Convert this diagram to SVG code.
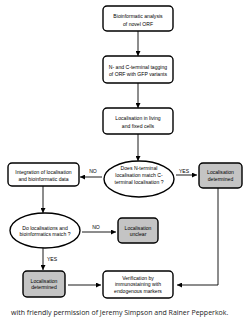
<svg xmlns="http://www.w3.org/2000/svg" width="250" height="320" viewBox="0 0 250 320">
<style>
.b{fill:#fff;stroke:#000;stroke-width:1.4}
.g{fill:#c4c4c4;stroke:#000;stroke-width:1.4}
.t{font-family:"Liberation Sans",Arial,sans-serif;font-size:5.1px;text-anchor:middle;fill:#000}
.c{stroke:#000;stroke-width:0.9;fill:none}
.cap{font-family:"Open Sans","DejaVu Sans",sans-serif;font-size:7px;fill:#222}
</style>
<defs>
<marker id="ah" viewBox="0 0 10 10" refX="10" refY="5" markerWidth="5" markerHeight="5" orient="auto" markerUnits="userSpaceOnUse">
<path d="M0,0 L10,5 L0,10 z" fill="#000"/>
</marker>
</defs>
<rect width="250" height="320" fill="#fff"/>
<g id="connectors">
<line class="c" x1="138" y1="31" x2="138" y2="56" marker-end="url(#ah)"/>
<line class="c" x1="138" y1="83" x2="138" y2="108" marker-end="url(#ah)"/>
<line class="c" x1="138" y1="134" x2="138" y2="161" marker-end="url(#ah)"/>
<line class="c" x1="102" y1="177" x2="80" y2="177" marker-end="url(#ah)"/>
<line class="c" x1="176" y1="175" x2="197" y2="175" marker-end="url(#ah)"/>
<polyline class="c" points="218,188 218,285 177,285" marker-end="url(#ah)"/>
<line class="c" x1="43" y1="186" x2="43" y2="213" marker-end="url(#ah)"/>
<line class="c" x1="82" y1="232" x2="116" y2="232" marker-end="url(#ah)"/>
<line class="c" x1="43" y1="248" x2="43" y2="270" marker-end="url(#ah)"/>
<line class="c" x1="68" y1="285" x2="101" y2="285" marker-end="url(#ah)"/>
<text class="t" x="93" y="173">NO</text>
<text class="t" x="184" y="173">YES</text>
<text class="t" x="96" y="229">NO</text>
<text class="t" x="52" y="261">YES</text>
</g>
<g id="n1"><rect class="b" x="103" y="6" width="70" height="25" rx="4"/>
<text class="t" x="138" y="17.5">Bioinformatic analysis</text><text class="t" x="138" y="25.8">of novel ORF</text></g>
<g id="n2"><rect class="b" x="103" y="56" width="70" height="27" rx="4"/>
<text class="t" x="138" y="68.5">N- and C-terminal tagging</text><text class="t" x="138" y="76">of ORF with GFP variants</text></g>
<g id="n3"><rect class="b" x="103" y="108" width="70" height="26" rx="4"/>
<text class="t" x="138" y="120">Localisation in living</text><text class="t" x="138" y="128">and fixed cells</text></g>
<g id="n4"><ellipse class="b" cx="139" cy="179" rx="35" ry="18"/>
<text class="t" x="139" y="170">Does N-terminal</text><text class="t" x="139" y="177">localisation match C-</text><text class="t" x="139" y="184">terminal localisation ?</text></g>
<g id="n5"><rect class="b" x="8" y="163" width="71" height="23" rx="4"/>
<text class="t" x="43.5" y="173.5">Integration of localisation</text><text class="t" x="43.5" y="180.5">and bioinformatic data</text></g>
<g id="n6"><rect class="g" x="199" y="163" width="43" height="25" rx="4"/>
<text class="t" x="220.5" y="174">Localisation</text><text class="t" x="220.5" y="181">determined</text></g>
<g id="n7"><ellipse class="b" cx="45" cy="230.5" rx="35" ry="17.5"/>
<text class="t" x="45" y="229.5">Do localisations and</text><text class="t" x="45" y="236">bioinformatics match ?</text></g>
<g id="n8"><rect class="g" x="118" y="218" width="40" height="25" rx="4"/>
<text class="t" x="138" y="229.5">Localisation</text><text class="t" x="138" y="236">unclear</text></g>
<g id="n9"><rect class="g" x="23" y="271" width="42" height="26" rx="4"/>
<text class="t" x="44" y="283">Localisation</text><text class="t" x="44" y="289">determined</text></g>
<g id="n10"><rect class="b" x="103" y="271" width="70" height="27" rx="4"/>
<text class="t" x="138" y="280">Verification by</text><text class="t" x="138" y="286">immunostaining with</text><text class="t" x="138" y="293">endogenous markers</text></g>
<text class="cap" x="11" y="315">with friendly permission of Jeremy Simpson and Rainer Pepperkok.</text>
</svg>
